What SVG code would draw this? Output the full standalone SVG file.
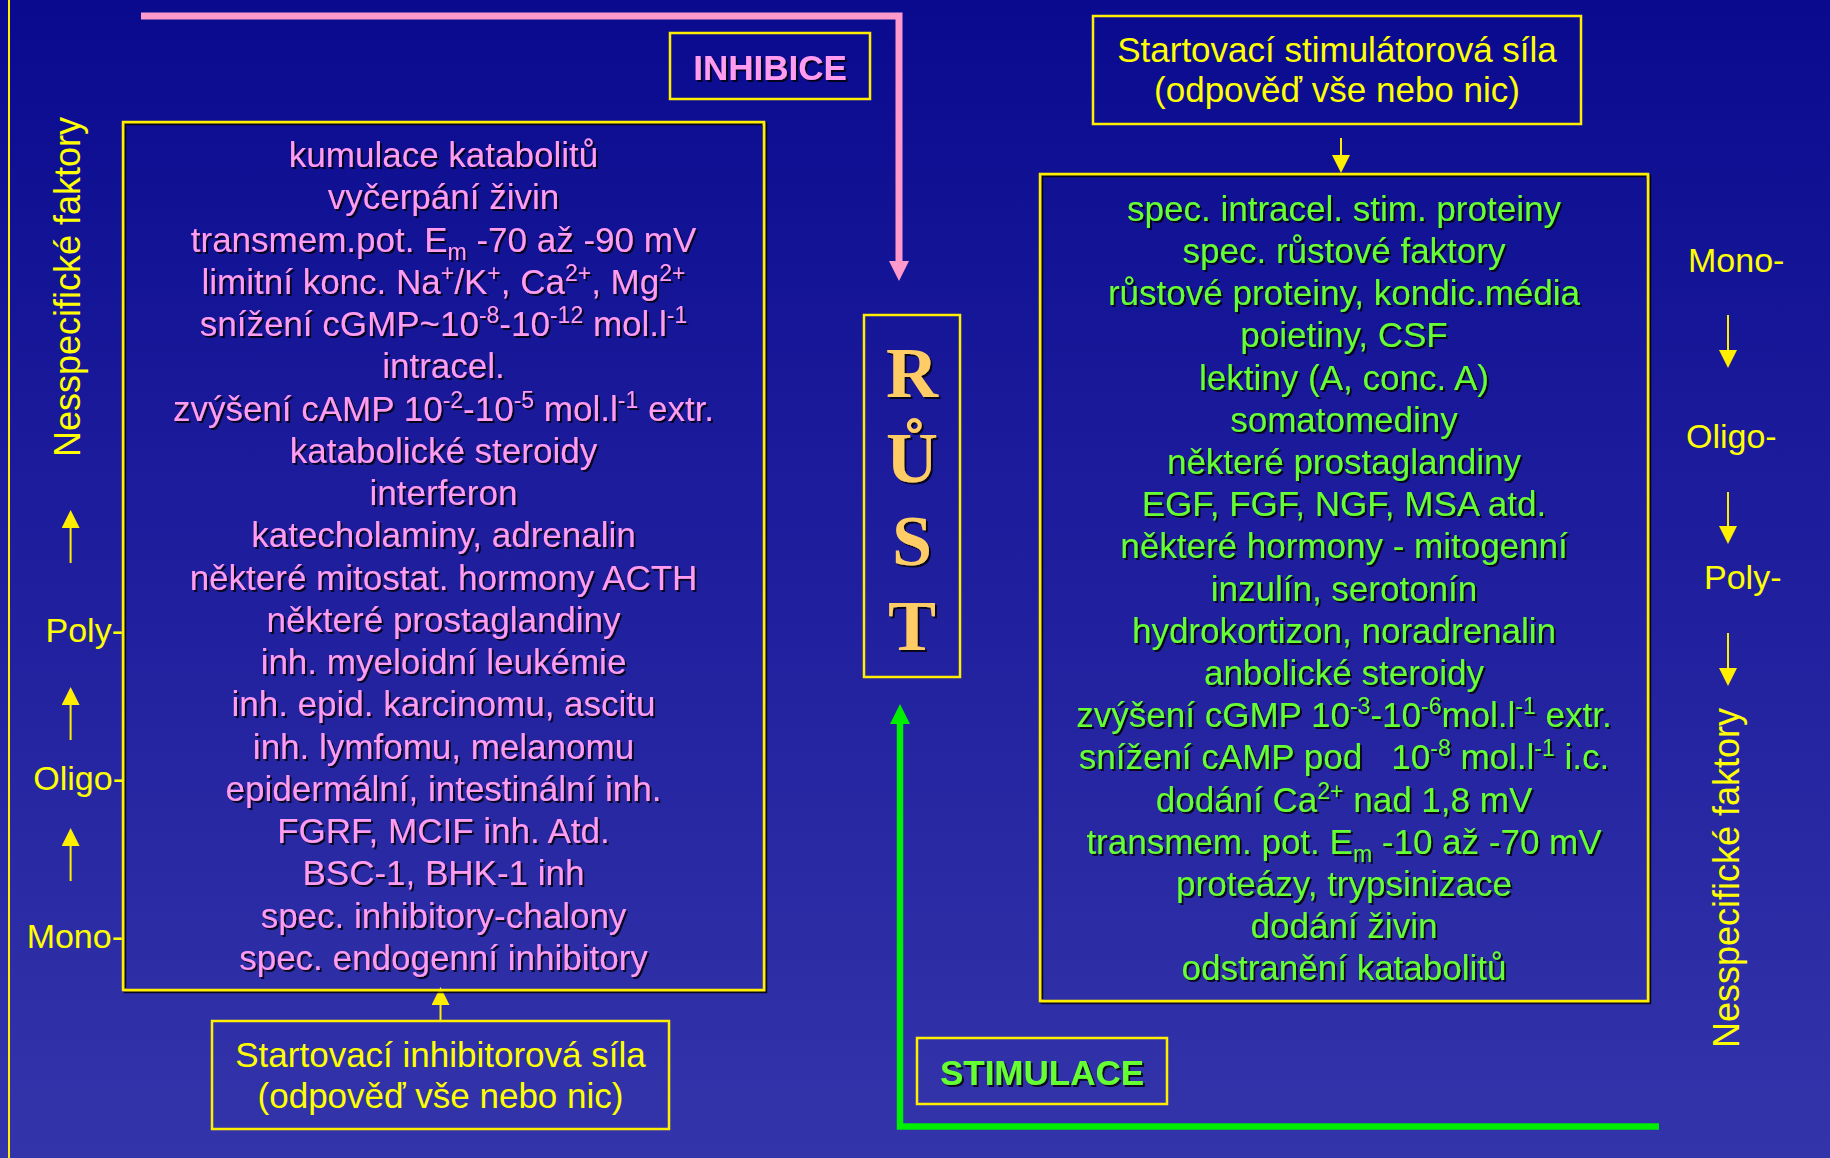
<svg xmlns="http://www.w3.org/2000/svg" width="1830" height="1158" viewBox="0 0 1830 1158">
<defs>
<linearGradient id="bg" x1="0" y1="0" x2="0" y2="1">
<stop offset="0" stop-color="#0a0a8f"/>
<stop offset="0.5" stop-color="#1f1f9e"/>
<stop offset="1" stop-color="#3434aa"/>
</linearGradient>
<filter id="sh" x="-5%" y="-30%" width="110%" height="160%">
<feDropShadow dx="2" dy="2" stdDeviation="0.6" flood-color="#000" flood-opacity="0.8"/>
</filter>
<marker id="ay" markerUnits="userSpaceOnUse" markerWidth="18" markerHeight="18" refX="0" refY="9" orient="auto">
<path d="M0,0 L18,9 L0,18 z" fill="#ffee00"/>
</marker>
<marker id="ap" markerUnits="userSpaceOnUse" markerWidth="20" markerHeight="20" refX="0" refY="10" orient="auto">
<path d="M0,0 L20,10 L0,20 z" fill="#ff99cc"/>
</marker>
<marker id="ag" markerUnits="userSpaceOnUse" markerWidth="20" markerHeight="20" refX="0" refY="10" orient="auto">
<path d="M0,0 L20,10 L0,20 z" fill="#00ee00"/>
</marker>
<style>
.box{fill:none;stroke:#ffee00;stroke-width:2.5}
.t{font-family:"Liberation Sans",Arial,sans-serif;font-size:35px;text-anchor:middle}
.pk{fill:#ff9cf0}
.gr{fill:#66ff33}
.yl{fill:#ffff00}
.b{font-weight:bold}
.s{font-size:23px}
.lab{font-family:"Liberation Sans",Arial,sans-serif;font-size:34px;fill:#ffff00}
.rot{font-size:36px;text-anchor:middle}
.rust{font-family:"Liberation Serif","Times New Roman",serif;font-weight:bold;font-size:72px;fill:#ffcc66;text-anchor:middle}
.yline{stroke:#ffee00;stroke-width:2;fill:none}
</style>
</defs>
<rect x="0" y="0" width="1830" height="1158" fill="url(#bg)"/>
<line x1="9" y1="0" x2="9" y2="1158" stroke="#ffee00" stroke-width="2"/>

<g id="connectors">
<path d="M141,16 H899 V261" fill="none" stroke="#ff99cc" stroke-width="7" marker-end="url(#ap)"/>
<path d="M1659,1126.5 H900 V724" fill="none" stroke="#00ee00" stroke-width="6.5" marker-end="url(#ag)"/>
<path class="yline" d="M1341,138 V155" marker-end="url(#ay)"/>
<path class="yline" d="M440.5,1021 V1005" marker-end="url(#ay)"/>
<path class="yline" d="M70.6,563 V528" marker-end="url(#ay)"/>
<path class="yline" d="M70.6,740 V705" marker-end="url(#ay)"/>
<path class="yline" d="M70.6,881 V846" marker-end="url(#ay)"/>
<path class="yline" d="M1728,315 V350" marker-end="url(#ay)"/>
<path class="yline" d="M1728,492 V526" marker-end="url(#ay)"/>
<path class="yline" d="M1728,633 V668" marker-end="url(#ay)"/>
</g>

<g id="inhibice">
<rect class="box" x="670" y="33" width="200" height="66"/>
<text class="t pk b" x="770" y="80" filter="url(#sh)">INHIBICE</text>
</g>

<g id="inhibitory-list" filter="url(#sh)">
<rect class="box" x="123" y="122" width="641" height="868"/>
<g class="t pk">
<text x="443.5" y="167">kumulace katabolitů</text>
<text x="443.5" y="209.25">vyčerpání živin</text>
<text x="443.5" y="251.5">transmem.pot. E<tspan class="s" dy="8">m</tspan><tspan dy="-8"> -70 až -90 mV</tspan></text>
<text x="443.5" y="293.75">limitní konc. Na<tspan class="s" dy="-13">+</tspan><tspan dy="13">/K</tspan><tspan class="s" dy="-13">+</tspan><tspan dy="13">, Ca</tspan><tspan class="s" dy="-13">2+</tspan><tspan dy="13">, Mg</tspan><tspan class="s" dy="-13">2+</tspan></text>
<text x="443.5" y="336">snížení cGMP~10<tspan class="s" dy="-13">-8</tspan><tspan dy="13">-10</tspan><tspan class="s" dy="-13">-12</tspan><tspan dy="13"> mol.l</tspan><tspan class="s" dy="-13">-1</tspan></text>
<text x="443.5" y="378.25">intracel.</text>
<text x="443.5" y="420.5">zvýšení cAMP 10<tspan class="s" dy="-13">-2</tspan><tspan dy="13">-10</tspan><tspan class="s" dy="-13">-5</tspan><tspan dy="13"> mol.l</tspan><tspan class="s" dy="-13">-1</tspan><tspan dy="13"> extr.</tspan></text>
<text x="443.5" y="462.75">katabolické steroidy</text>
<text x="443.5" y="505">interferon</text>
<text x="443.5" y="547.25">katecholaminy, adrenalin</text>
<text x="443.5" y="589.5">některé mitostat. hormony ACTH</text>
<text x="443.5" y="631.75">některé prostaglandiny</text>
<text x="443.5" y="674">inh. myeloidní leukémie</text>
<text x="443.5" y="716.25">inh. epid. karcinomu, ascitu</text>
<text x="443.5" y="758.5">inh. lymfomu, melanomu</text>
<text x="443.5" y="800.75">epidermální, intestinální inh.</text>
<text x="443.5" y="843">FGRF, MCIF inh. Atd.</text>
<text x="443.5" y="885.25">BSC-1, BHK-1 inh</text>
<text x="443.5" y="927.5">spec. inhibitory-chalony</text>
<text x="443.5" y="969.75">spec. endogenní inhibitory</text>
</g>
</g>

<g id="start-inhib">
<rect class="box" x="212" y="1021" width="457" height="108"/>
<text class="t yl" x="440.5" y="1066.7">Startovací inhibitorová síla</text>
<text class="t yl" x="440.5" y="1108.3">(odpověď vše nebo nic)</text>
</g>

<g id="start-stim">
<rect class="box" x="1093" y="16" width="488" height="108"/>
<text class="t yl" x="1337" y="61.7">Startovací stimulátorová síla</text>
<text class="t yl" x="1337" y="101.7">(odpověď vše nebo nic)</text>
</g>

<g id="rust">
<rect class="box" x="864" y="315" width="96" height="362"/>
<g filter="url(#sh)">
<text class="rust" x="912" y="397">R</text>
<text class="rust" x="912" y="482">Ů</text>
<text class="rust" x="912" y="565">S</text>
<text class="rust" x="912" y="650">T</text>
</g>
</g>

<g id="stimulatory-list" filter="url(#sh)">
<rect class="box" x="1040" y="174" width="608" height="827"/>
<g class="t gr">
<text x="1344" y="220.7">spec. intracel. stim. proteiny</text>
<text x="1344" y="262.9">spec. růstové faktory</text>
<text x="1344" y="305.1">růstové proteiny, kondic.média</text>
<text x="1344" y="347.3">poietiny, CSF</text>
<text x="1344" y="389.5">lektiny (A, conc. A)</text>
<text x="1344" y="431.7">somatomediny</text>
<text x="1344" y="473.9">některé prostaglandiny</text>
<text x="1344" y="516.1">EGF, FGF, NGF, MSA atd.</text>
<text x="1344" y="558.3">některé hormony - mitogenní</text>
<text x="1344" y="600.5">inzulín, serotonín</text>
<text x="1344" y="642.7">hydrokortizon, noradrenalin</text>
<text x="1344" y="684.9">anbolické steroidy</text>
<text x="1344" y="727.1">zvýšení cGMP 10<tspan class="s" dy="-13">-3</tspan><tspan dy="13">-10</tspan><tspan class="s" dy="-13">-6</tspan><tspan dy="13">mol.l</tspan><tspan class="s" dy="-13">-1</tspan><tspan dy="13"> extr.</tspan></text>
<text x="1344" y="769.3" xml:space="preserve">snížení cAMP pod   10<tspan class="s" dy="-13">-8</tspan><tspan dy="13"> mol.l</tspan><tspan class="s" dy="-13">-1</tspan><tspan dy="13"> i.c.</tspan></text>
<text x="1344" y="811.5">dodání Ca<tspan class="s" dy="-13">2+</tspan><tspan dy="13"> nad 1,8 mV</tspan></text>
<text x="1344" y="853.7">transmem. pot. E<tspan class="s" dy="8">m</tspan><tspan dy="-8"> -10 až -70 mV</tspan></text>
<text x="1344" y="895.9">proteázy, trypsinizace</text>
<text x="1344" y="938.1">dodání živin</text>
<text x="1344" y="980.3">odstranění katabolitů</text>
</g>
</g>

<g id="stimulace">
<rect class="box" x="917" y="1038" width="250" height="66"/>
<text class="t gr b" x="1042" y="1085" filter="url(#sh)">STIMULACE</text>
</g>

<g id="left-labels">
<text class="lab rot" x="80" y="287" transform="rotate(-90 80 287)">Nesspecifické faktory</text>
<text class="lab" x="123" y="642" text-anchor="end">Poly-</text>
<text class="lab" x="124" y="790" text-anchor="end">Oligo-</text>
<text class="lab" x="123" y="948" text-anchor="end">Mono-</text>
</g>

<g id="right-labels">
<text class="lab" x="1688" y="272">Mono-</text>
<text class="lab" x="1686" y="448">Oligo-</text>
<text class="lab" x="1704" y="589">Poly-</text>
<text class="lab rot" x="1739" y="878" transform="rotate(-90 1739 878)">Nesspecifické faktory</text>
</g>
</svg>
